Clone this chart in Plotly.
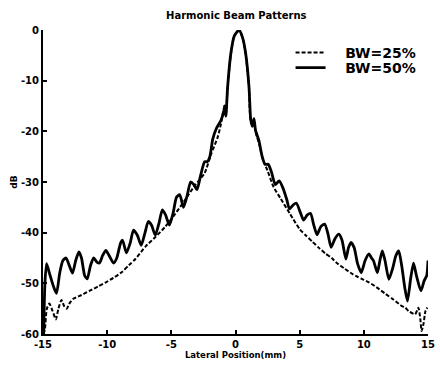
import plotly.graph_objects as go

# BW=50% (solid) beam pattern
x50 = [-14.95, -14.85, -14.72, -14.5, -14.2, -13.95, -13.7, -13.45, -13.2, -12.95,
       -12.7, -12.45, -12.2, -12.0, -11.75, -11.55, -11.3, -11.05, -10.8, -10.6,
       -10.35, -10.1, -9.85, -9.5, -9.25, -8.95, -8.8, -8.5, -8.2, -7.95,
       -7.65, -7.35, -7.05, -6.8, -6.55, -6.25, -5.95, -5.7, -5.45, -5.15,
       -4.85, -4.6, -4.35, -4.05, -3.75, -3.5, -3.25, -3.0, -2.7, -2.4,
       -2.2, -2.0, -1.77, -1.5, -1.13, -0.9, -0.85, -0.75, -0.62, -0.36,
       -0.1, 0.28, 0.55, 0.79, 1.05, 1.18, 1.3, 1.44, 1.56, 1.82,
       2.08, 2.3, 2.55, 2.8, 3.1, 3.4, 3.7, 4.0, 4.2, 4.5,
       4.75, 5.05, 5.3, 5.6, 5.85, 6.1, 6.35, 6.65, 6.95, 7.2,
       7.45, 7.75, 8.05, 8.3, 8.6, 8.8, 9.0, 9.25, 9.5, 9.8,
       10.1, 10.4, 10.6, 10.75, 11.05, 11.25, 11.44, 11.65, 11.95, 12.25,
       12.5, 12.72, 12.95, 13.2, 13.4, 13.65, 13.87, 14.1, 14.45, 14.7,
       14.9, 15.0]
y50 = [-60, -50, -46.1, -48, -50.5, -52, -48, -45.5, -45, -46.5,
       -48, -45.5, -43.8, -45, -48.5, -49.1, -46.5, -45, -45.8, -46,
       -44.5, -43.5, -44.5, -46, -45, -42, -41.5, -44, -42, -39.5,
       -40.5, -42.5, -40, -37.8, -38.5, -40.5, -38, -35.5, -36.5, -38.5,
       -36, -33, -32.5, -35, -32.5, -30, -30.5, -31.5, -28.5, -26,
       -26, -25, -21.5, -19.5, -17.8, -16, -15, -17, -11.5, -4.6,
       -1.2, 0, -1.5, -4.6, -11.2, -17.5, -19, -17.5, -19.8, -21.8,
       -25, -26.5, -26.5, -28, -30.5, -29.8, -31.2, -33.5, -35.3, -34.5,
       -34.2, -36, -37.5, -36.5, -36.2, -38.5, -40.4, -38.8, -38.3, -40.2,
       -42.9, -41.2, -40.3, -41.5, -45.2, -43, -41.9, -43, -46, -47.9,
       -45.5, -44.2, -45, -45.5, -47.9, -45.5, -43.6, -45.5, -49.2, -47,
       -44.5, -43.6, -46.5, -51, -53.5, -49, -46, -48.5, -51.5, -49.5,
       -48.5, -45.5]

# BW=25% (dashed) beam pattern
x25 = [-14.95, -14.85, -14.7, -14.5, -14.25, -14.0, -13.8, -13.56, -13.35, -13.15,
       -12.9, -12.67, -12.0, -11.38, -10.7, -10.1, -9.5, -8.82, -8.3, -7.8,
       -7.0, -6.3, -5.5, -4.7, -3.95, -3.2, -2.4, -1.9, -1.38, -1.13,
       -0.9, -0.75, -0.62, -0.36, -0.1, 0.28, 0.55, 0.79, 1.05, 1.2,
       1.44, 1.6, 1.85, 2.1, 2.5, 2.97, 3.5, 4.25, 5.0, 5.5,
       6.0, 6.5, 7.0, 7.5, 7.85, 8.5, 9.13, 9.5, 10.0, 10.4,
       11.0, 11.7, 12.3, 12.97, 13.23, 13.5, 14.0, 14.25, 14.4, 14.5,
       14.65, 14.8, 14.95]
y25 = [-60, -59, -55, -54, -55.5, -57.1, -55, -53.3, -54.5, -55,
       -53.8, -53.1, -52.3, -51.5, -50.6, -49.8, -48.9, -47.7, -46.4, -45.2,
       -42.7, -41, -38.9, -36.3, -33.6, -30.8, -28.2, -24.5, -21.1, -18.5,
       -15.5, -16.5, -11.5, -4.7, -1.2, 0, -1.5, -4.7, -11.3, -18,
       -18.5, -20.5, -22.5, -25.3, -27.8, -31, -33.2, -36.3, -39.3, -40.6,
       -41.8, -43, -44.1, -45, -45.9, -47.1, -48.2, -48.7, -49.3, -49.8,
       -50.8, -52.1, -53.2, -54.5, -54.8, -55.5, -56.1, -54.8, -57, -59.4,
       -58, -55.5, -54.8]

x_ticks = [-15, -10, -5, 0, 5, 10, 15]
y_ticks = [0, -10, -20, -30, -40, -50, -60]

FONT = "DejaVu Sans, Liberation Sans, Arial, sans-serif"

fig = go.Figure()
fig.add_trace(go.Scatter(x=x25, y=y25, mode="lines", name="\u00a0\u00a0\u00a0BW=25%",
                         legend="legend",
                         line=dict(color="black", width=2, dash="4px,2px",
                                   shape="spline", smoothing=0.6)))
fig.add_trace(go.Scatter(x=x50, y=y50, mode="lines", name="\u00a0\u00a0\u00a0BW=50%",
                         legend="legend2",
                         line=dict(color="black", width=2.8,
                                   shape="spline", smoothing=0.6)))

legend_common = dict(xanchor="left", yanchor="middle", bgcolor="rgba(0,0,0,0)",
                     font=dict(size=14, family=FONT, weight="bold"))

fig.update_layout(
    width=440, height=366,
    margin=dict(l=43, r=5, t=30, b=32),
    paper_bgcolor="white", plot_bgcolor="white",
    font=dict(family=FONT, color="black"),
    title=dict(text="Harmonic Beam Patterns", x=0.537, xanchor="center",
               y=0.957, yanchor="middle",
               font=dict(size=10, family=FONT, weight="bold")),
    showlegend=True,
    legend=dict(x=0.643, y=0.925, **legend_common),
    legend2=dict(x=0.643, y=0.875, **legend_common),
    xaxis=dict(range=[-15, 15], tickvals=x_ticks, ticktext=[str(v) for v in x_ticks],
               ticks="inside", ticklen=4, tickwidth=1.5, tickcolor="black",
               showline=True, linecolor="black", linewidth=2, showgrid=False,
               zeroline=False, ticklabeloverflow="allow",
               tickfont=dict(size=10, family=FONT, weight="bold"),
               title=dict(text="Lateral Position(mm)",
                          font=dict(size=8.5, family=FONT, weight="bold"),
                          standoff=3)),
    yaxis=dict(range=[-60, 0], tickvals=y_ticks, ticktext=[str(v) for v in y_ticks],
               ticks="inside", ticklen=4, tickwidth=1.5, tickcolor="black",
               showline=True, linecolor="black", linewidth=2, showgrid=False,
               zeroline=False, ticklabeloverflow="allow",
               tickfont=dict(size=10, family=FONT, weight="bold"),
               title=dict(text="dB", font=dict(size=9, family=FONT, weight="bold"),
                          standoff=2)),
)

fig.write_html("out.html", config={"displayModeBar": False},
               post_script="document.body.style.margin='0';")
